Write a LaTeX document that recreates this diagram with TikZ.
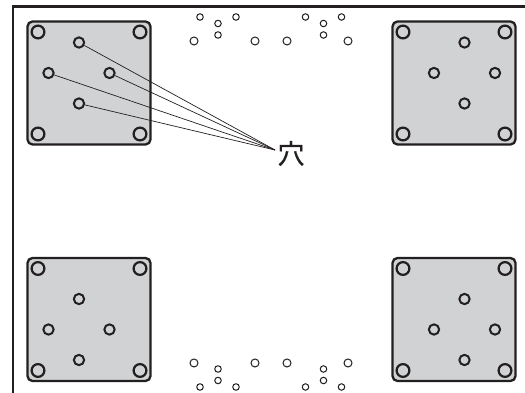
\documentclass[tikz,border=0pt]{standalone}
\usepackage{fontspec}
\newfontfamily\cjk[FakeBold=0.5]{Noto Sans CJK JP}
\definecolor{plategray}{RGB}{208,210,212}
\definecolor{inkgray}{RGB}{35,31,32}
\tikzset{
hole/.style={circle,draw=inkgray,inner sep=0pt},
bighole/.style={hole,line width=2.2pt,minimum size=12.8pt},
midhole/.style={hole,line width=2pt,minimum size=10.3pt},
tinyhole/.style={hole,line width=1pt,minimum size=6.5pt},
openhole/.style={hole,line width=1pt,minimum size=8pt},
leader/.style={draw=inkgray,line width=.7pt}
}
% a plate: x and y of its center, prefix for the names, offset of the inner holes
\newcommand{\Plate}[5]{
\begin{scope}[xshift=#1,yshift=#2]
\draw[draw=inkgray,fill=plategray,line width=2.3pt,rounded corners=5pt](-61.5,-61.5)rectangle(61.5,61.5);
\node[bighole](#3a)at(-51,51){};
\node[bighole](#3b)at(51,51){};
\node[bighole](#3c)at(-51,-51){};
\node[bighole](#3d)at(51,-51){};
\begin{scope}[xshift=#4,yshift=#5]
\node[midhole](#3n)at(0,30.5){};
\node[midhole](#3w)at(-30.5,0){};
\node[midhole](#3e)at(30.5,0){};
\node[midhole](#3s)at(0,-30.5){};
\end{scope}
\end{scope}}
% small holes along one edge: center x, y of the outer row, sign
\newcommand{\Cluster}[3]{
\begin{scope}[xshift=#1,yshift=#2,yscale=#3]
\node[tinyhole](#1c#2a)at(-18,0){};
\node[tinyhole](#1c#2b)at(0,-6.5){};
\node[tinyhole](#1c#2c)at(18,0){};
\node[tinyhole](#1c#2d)at(0,-18){};
\end{scope}}
\begin{document}
\begin{tikzpicture}[x=1pt,y=1pt]
\useasboundingbox(0,0)rectangle(525,393);
\draw[draw=inkgray,line width=2.1pt](13,0)--(13,386.5)--(525,386.5);
\Plate{89}{310}{tl}{-10}{10}
\Plate{454}{310}{tr}{10.5}{10}
\Plate{89}{73.5}{bl}{-10}{-10}
\Plate{454}{73.5}{br}{10.5}{-10}
\Cluster{218}{376}{1}
\Cluster{323.5}{376}{1}
\Cluster{218}{6}{-1}
\Cluster{323.5}{6}{-1}
\node[openhole](pa)at(194,352){};
\node[openhole](pb)at(255,352){};
\node[openhole](pc)at(287,352){};
\node[openhole](pd)at(348,352){};
\node[openhole](qa)at(194,30){};
\node[openhole](qb)at(255,30){};
\node[openhole](qc)at(287,30){};
\node[openhole](qd)at(348,30){};
\node[inner sep=0pt,font=\cjk\fontsize{27}{27}\selectfont,text=inkgray](ana)at(291,239.5){穴};
\coordinate(tip)at(275,243);
\draw[leader](tln)--(tip);
\draw[leader](tle)--(tip);
\draw[leader](tlw)--(tip);
\draw[leader](tls)--(tip);
\end{tikzpicture}
\end{document}
